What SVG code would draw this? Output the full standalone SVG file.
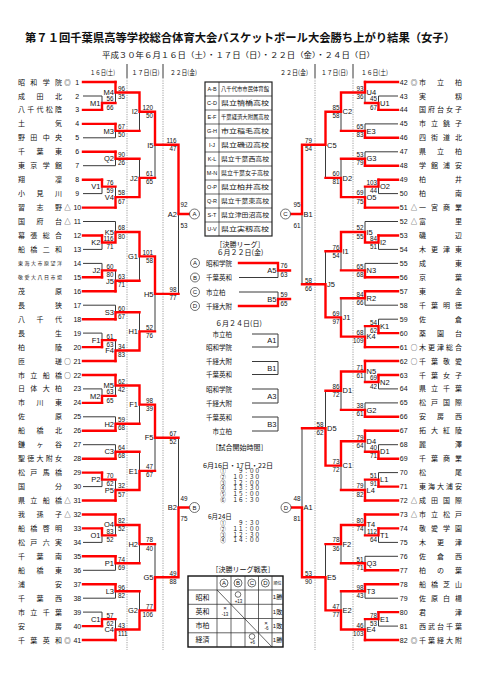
<svg xmlns="http://www.w3.org/2000/svg" width="481" height="680" viewBox="0 0 481 680">
<style>
text{font-family:"Liberation Sans","Noto Sans CJK JP",sans-serif;fill:#111}
.nm{font-family:"Noto Sans CJK JP",sans-serif;font-size:7px}
.sm{font-size:5px}
.mk{font-family:"Noto Sans CJK JP",sans-serif;font-size:6.5px;text-anchor:middle}
.no{font-size:7px;text-anchor:middle}
.lb{font-size:7.5px}
.s{font-size:6.3px}
.e{text-anchor:end}
.mid{text-anchor:middle}
.j{font-family:"Noto Sans CJK JP",sans-serif}
.r{fill:none;stroke:#f00;stroke-width:2.4;stroke-linecap:square;stroke-linejoin:miter}
.k{fill:none;stroke:#3a3a3a;stroke-width:1}
.dot{fill:none;stroke:#888;stroke-width:0.8;stroke-dasharray:1.2 1.2}
.c{fill:#fff;stroke:#333;stroke-width:0.7}
.cl{font-size:6px;text-anchor:middle}
.tb{fill:none;stroke:#222;stroke-width:0.7}
</style>
<rect width="481" height="680" fill="#fff"/>
<g id="title">
<text class="j" x="240" y="42" text-anchor="middle" font-size="11.5" font-weight="bold" textLength="430" lengthAdjust="spacingAndGlyphs">第７１回千葉県高等学校総合体育大会バスケットボール大会勝ち上がり結果（女子）</text>
<text class="j" x="238.5" y="57.5" text-anchor="middle" font-size="7.5" textLength="273" lengthAdjust="spacingAndGlyphs">平成３０年６月１６日（土）・１７日（日）・２２日（金）・２４日（日）</text>
</g>
<g id="headers">
<text class="j" x="90" y="74.5" font-size="6.5" textLength="25" lengthAdjust="spacingAndGlyphs">１６日(土)</text>
<text class="j" x="131.5" y="74.5" font-size="6.5" textLength="28" lengthAdjust="spacingAndGlyphs">１７日(日)</text>
<text class="j" x="170" y="74.5" font-size="6.5" textLength="27" lengthAdjust="spacingAndGlyphs">２２日(金)</text>
<text class="j" x="280" y="74.5" font-size="6.5" textLength="28" lengthAdjust="spacingAndGlyphs">２２日(金)</text>
<text class="j" x="321" y="74.5" font-size="6.5" textLength="27" lengthAdjust="spacingAndGlyphs">１７日(日)</text>
<text class="j" x="361" y="74.5" font-size="6.5" textLength="27" lengthAdjust="spacingAndGlyphs">１６日(土)</text>
<path d="M127 64V78 M163 64V78 M315 64V78 M353 64V78" stroke="#222" stroke-width="0.9"/>
<path class="dot" d="M127 78V650 M163 78V650 M315 78V650 M353 78V650"/>
</g>
<g id="connectors">
<path class="k" d="M83 96H102 M83 137.8H115.5 M83 165.7H115.5 M83 193.6H102 M83 221.5H115.5 M83 249.4H102 M83 263.4H102 M83 305.2H115.5 M83 333.1H102 M83 388.9H102 M83 416.8H115.5 M83 444.7H115.5 M83 486.6H102 M83 542.4H102 M83 570.3H115.5 M83 598.2H115.5 M83 612.1H102"/>
<path class="k" d="M102 102.95V96 M115.5 92.5V102.95 M115.5 130.85V137.8 M139.5 111.7V130.85 M115.5 158.75V165.7 M102 186.65V193.6 M115.5 197.1V186.65 M139.5 177.9V158.75 M155 144.8V177.9 M102 242.45V249.4 M115.5 232V221.5 M102 270.35V263.4 M115.5 280.8V270.35 M139.5 256.4V280.8 M115.5 312.2V305.2 M102 340.1V333.1 M115.5 350.55V340.1 M139.5 331.4V312.2 M155 293.9V331.4 M178.5 214V293.9 M102 395.9V388.9 M115.5 385.45V395.9 M115.5 423.8V416.8 M139.5 404.6V423.8 M115.5 451.7V444.7 M102 479.6V486.6 M115.5 490.05V479.6 M139.5 470.9V451.7 M155 437.75V470.9 M102 535.4V542.4 M115.5 524.95V535.4 M115.5 563.3V570.3 M139.5 544.1V563.3 M115.5 591.2V598.2 M102 619.1V612.1 M115.5 629.55V619.1 M139.5 610.4V591.2 M155 577.25V544.1 M178.5 507.5V437.75"/>
<path class="k" d="M398 96H378.5 M398 123.9H365 M398 151.8H365 M398 193.6H378.5 M398 221.5H365 M398 249.4H378.5 M398 263.4H365 M398 305.2H365 M398 319.2H378.5 M398 388.9H378.5 M398 402.9H365 M398 444.7H378.5 M398 472.6H378.5 M398 542.4H378.5 M398 556.3H365 M398 598.2H365 M398 626.1H378.5"/>
<path class="k" d="M378.5 102.95V96 M365 92.5V102.95 M365 130.85V123.9 M341 111.7V130.85 M365 158.75V151.8 M378.5 186.65V193.6 M365 197.1V186.65 M341 177.9V158.75 M325.5 144.8V177.9 M378.5 242.45V249.4 M365 232V221.5 M365 270.35V263.4 M341 251.2V270.35 M365 298.25V305.2 M378.5 326.15V319.2 M365 336.6V326.15 M341 317.4V298.25 M325.5 284.3V251.2 M302 214V284.3 M378.5 381.95V388.9 M365 371.5V381.95 M365 409.85V402.9 M341 390.7V409.85 M378.5 451.7V444.7 M365 441.25V451.7 M378.5 479.6V472.6 M365 490.05V479.6 M341 465.65V490.05 M325.5 428.2V390.7 M378.5 535.4V542.4 M365 524.95V535.4 M365 563.3V556.3 M341 544.1V563.3 M365 591.2V598.2 M378.5 619.1V626.1 M365 629.55V619.1 M341 610.4V591.2 M325.5 577.25V544.1 M302 507.5V428.2"/>
<path class="k" d="M239 277.5H278V270.5 M239 292H278V299 M252 334H278V347H252 M252 361.5H278V374.5H252 M252 389H278V403H252 M252 417H278V431H252"/>
<path class="r" d="M83 82H115.5 M83 109.9H102 M83 123.9H115.5 M83 151.8H115.5 M83 179.7H102 M83 207.6H115.5 M83 235.5H102 M83 277.3H102 M83 291.3H115.5 M83 319.2H115.5 M83 347.1H102 M83 361H115.5 M83 375H115.5 M83 402.9H102 M83 430.8H115.5 M83 458.7H115.5 M83 472.6H102 M83 500.5H115.5 M83 514.5H115.5 M83 528.4H102 M83 556.3H115.5 M83 584.2H115.5 M83 626.1H102 M83 640H115.5"/>
<path class="r" d="M102 109.9V102.95H115.5 M115.5 82V92.5H139.5 M115.5 123.9V130.85H139.5 M139.5 92.5V111.7H155 M115.5 151.8V158.75H139.5 M102 179.7V186.65H115.5 M115.5 207.6V197.1H139.5 M139.5 197.1V177.9H155 M155 111.7V144.8H178.5 M102 235.5V242.45H115.5 M115.5 242.45V232H139.5 M102 277.3V270.35H115.5 M115.5 291.3V280.8H139.5 M139.5 232V256.4H155 M115.5 319.2V312.2H139.5 M102 347.1V340.1H115.5 M115.5 361V350.55H139.5 M139.5 350.55V331.4H155 M155 256.4V293.9H178.5 M178.5 144.8V214H189.5 M102 402.9V395.9H115.5 M115.5 375V385.45H139.5 M115.5 430.8V423.8H139.5 M139.5 385.45V404.6H155 M115.5 458.7V451.7H139.5 M102 472.6V479.6H115.5 M115.5 500.5V490.05H139.5 M139.5 490.05V470.9H155 M155 404.6V437.75H178.5 M102 528.4V535.4H115.5 M115.5 514.5V524.95H139.5 M115.5 556.3V563.3H139.5 M139.5 524.95V544.1H155 M115.5 584.2V591.2H139.5 M102 626.1V619.1H115.5 M115.5 640V629.55H139.5 M139.5 629.55V610.4H155 M155 610.4V577.25H178.5 M178.5 577.25V507.5H189.5"/>
<path class="r" d="M398 82H365 M398 109.9H378.5 M398 137.8H365 M398 165.7H365 M398 179.7H378.5 M398 207.6H365 M398 235.5H378.5 M398 277.3H365 M398 291.3H365 M398 333.1H378.5 M398 347.1H365 M398 361H365 M398 375H378.5 M398 416.8H365 M398 430.8H365 M398 458.7H378.5 M398 486.6H378.5 M398 500.5H365 M398 514.5H365 M398 528.4H378.5 M398 570.3H365 M398 584.2H365 M398 612.1H378.5 M398 640H365"/>
<path class="r" d="M378.5 109.9V102.95H365 M365 82V92.5H341 M365 137.8V130.85H341 M341 92.5V111.7H325.5 M365 165.7V158.75H341 M378.5 179.7V186.65H365 M365 207.6V197.1H341 M341 197.1V177.9H325.5 M325.5 111.7V144.8H302 M378.5 235.5V242.45H365 M365 242.45V232H341 M365 277.3V270.35H341 M341 232V251.2H325.5 M365 291.3V298.25H341 M378.5 333.1V326.15H365 M365 347.1V336.6H341 M341 336.6V317.4H325.5 M325.5 317.4V284.3H302 M302 144.8V214H291 M378.5 375V381.95H365 M365 361V371.5H341 M365 416.8V409.85H341 M341 371.5V390.7H325.5 M378.5 458.7V451.7H365 M365 430.8V441.25H341 M378.5 486.6V479.6H365 M365 500.5V490.05H341 M341 441.25V465.65H325.5 M325.5 465.65V428.2H302 M378.5 528.4V535.4H365 M365 514.5V524.95H341 M365 570.3V563.3H341 M341 524.95V544.1H325.5 M365 584.2V591.2H341 M378.5 612.1V619.1H365 M365 640V629.55H341 M341 629.55V610.4H325.5 M325.5 610.4V577.25H302 M302 577.25V507.5H291"/>
<path class="r" d="M239 263H278V270.5H290 M239 306H278V299H290"/>
</g>
<g id="teams-left">
<g id="t1"><text class="nm" x="18" y="84.5" textLength="44">昭和学院</text><text class="mk" x="67.5" y="84.5">◎</text><text class="no" x="77.3" y="84.5">1</text></g>
<g id="t2"><text class="nm" x="18" y="98.5" textLength="44">成田北</text><text class="no" x="77.3" y="98.5">2</text></g>
<g id="t3"><text class="nm" x="18" y="112.4" textLength="44">八千代松陰</text><text class="no" x="77.3" y="112.4">3</text></g>
<g id="t4"><text class="nm" x="18" y="126.4" textLength="44">土気</text><text class="no" x="77.3" y="126.4">4</text></g>
<g id="t5"><text class="nm" x="18" y="140.3" textLength="44">野田中央</text><text class="no" x="77.3" y="140.3">5</text></g>
<g id="t6"><text class="nm" x="18" y="154.3" textLength="44">千葉東</text><text class="no" x="77.3" y="154.3">6</text></g>
<g id="t7"><text class="nm" x="18" y="168.2" textLength="44">東京学館</text><text class="no" x="77.3" y="168.2">7</text></g>
<g id="t8"><text class="nm" x="18" y="182.2" textLength="44">翔凜</text><text class="no" x="77.3" y="182.2">8</text></g>
<g id="t9"><text class="nm" x="18" y="196.1" textLength="44">小見川</text><text class="no" x="77.3" y="196.1">9</text></g>
<g id="t10"><text class="nm" x="18" y="210.1" textLength="44">習志野</text><text class="mk" x="67.5" y="210.1">△</text><text class="no" x="77.3" y="210.1">10</text></g>
<g id="t11"><text class="nm" x="18" y="224" textLength="44">国府台</text><text class="mk" x="67.5" y="224">△</text><text class="no" x="77.3" y="224">11</text></g>
<g id="t12"><text class="nm" x="18" y="238" textLength="44">幕張総合</text><text class="no" x="77.3" y="238">12</text></g>
<g id="t13"><text class="nm" x="18" y="251.9" textLength="44">船橋二和</text><text class="no" x="77.3" y="251.9">13</text></g>
<g id="t14"><text class="nm sm" x="18" y="265.2" textLength="44">東海大市原望洋</text><text class="no" x="77.3" y="265.9">14</text></g>
<g id="t15"><text class="nm sm" x="18" y="279.1" textLength="44">敬愛大八日市場</text><text class="no" x="77.3" y="279.8">15</text></g>
<g id="t16"><text class="nm" x="18" y="293.8" textLength="44">茂原</text><text class="no" x="77.3" y="293.8">16</text></g>
<g id="t17"><text class="nm" x="18" y="307.7" textLength="44">長狭</text><text class="no" x="77.3" y="307.7">17</text></g>
<g id="t18"><text class="nm" x="18" y="321.7" textLength="44">八千代</text><text class="no" x="77.3" y="321.7">18</text></g>
<g id="t19"><text class="nm" x="18" y="335.6" textLength="44">長生</text><text class="no" x="77.3" y="335.6">19</text></g>
<g id="t20"><text class="nm" x="18" y="349.6" textLength="44">柏陵</text><text class="no" x="77.3" y="349.6">20</text></g>
<g id="t21"><text class="nm" x="18" y="363.5" textLength="44">匝瑳</text><text class="mk" x="67.5" y="363.5">○</text><text class="no" x="77.3" y="363.5">21</text></g>
<g id="t22"><text class="nm" x="18" y="377.5" textLength="44">市立船橋</text><text class="mk" x="67.5" y="377.5">○</text><text class="no" x="77.3" y="377.5">22</text></g>
<g id="t23"><text class="nm" x="18" y="391.4" textLength="44">日体大柏</text><text class="no" x="77.3" y="391.4">23</text></g>
<g id="t24"><text class="nm" x="18" y="405.4" textLength="44">市川東</text><text class="no" x="77.3" y="405.4">24</text></g>
<g id="t25"><text class="nm" x="18" y="419.3" textLength="44">佐原</text><text class="no" x="77.3" y="419.3">25</text></g>
<g id="t26"><text class="nm" x="18" y="433.3" textLength="44">船橋北</text><text class="no" x="77.3" y="433.3">26</text></g>
<g id="t27"><text class="nm" x="18" y="447.2" textLength="44">鎌ヶ谷</text><text class="no" x="77.3" y="447.2">27</text></g>
<g id="t28"><text class="nm" x="18" y="461.2" textLength="44">聖徳大附女</text><text class="no" x="77.3" y="461.2">28</text></g>
<g id="t29"><text class="nm" x="18" y="475.1" textLength="44">松戸馬橋</text><text class="no" x="77.3" y="475.1">29</text></g>
<g id="t30"><text class="nm" x="18" y="489.1" textLength="44">国分</text><text class="no" x="77.3" y="489.1">30</text></g>
<g id="t31"><text class="nm" x="18" y="503" textLength="44">県立船橋</text><text class="mk" x="67.5" y="503">△</text><text class="no" x="77.3" y="503">31</text></g>
<g id="t32"><text class="nm" x="18" y="517" textLength="44">我孫子</text><text class="mk" x="67.5" y="517">△</text><text class="no" x="77.3" y="517">32</text></g>
<g id="t33"><text class="nm" x="18" y="530.9" textLength="44">船橋啓明</text><text class="no" x="77.3" y="530.9">33</text></g>
<g id="t34"><text class="nm" x="18" y="544.9" textLength="44">松戸六実</text><text class="no" x="77.3" y="544.9">34</text></g>
<g id="t35"><text class="nm" x="18" y="558.8" textLength="44">千葉南</text><text class="no" x="77.3" y="558.8">35</text></g>
<g id="t36"><text class="nm" x="18" y="572.8" textLength="44">船橋東</text><text class="no" x="77.3" y="572.8">36</text></g>
<g id="t37"><text class="nm" x="18" y="586.7" textLength="44">浦安</text><text class="no" x="77.3" y="586.7">37</text></g>
<g id="t38"><text class="nm" x="18" y="600.7" textLength="44">千葉西</text><text class="no" x="77.3" y="600.7">38</text></g>
<g id="t39"><text class="nm" x="18" y="614.6" textLength="44">市立千葉</text><text class="no" x="77.3" y="614.6">39</text></g>
<g id="t40"><text class="nm" x="18" y="628.6" textLength="44">安房</text><text class="no" x="77.3" y="628.6">40</text></g>
<g id="t41"><text class="nm" x="18" y="642.5" textLength="44">千葉英和</text><text class="mk" x="67.5" y="642.5">◎</text><text class="no" x="77.3" y="642.5">41</text></g>
</g>
<g id="teams-right">
<g id="t42"><text class="no" x="403.7" y="84.5">42</text><text class="mk" x="414" y="84.5">◎</text><text class="nm" x="419" y="84.5" textLength="43">市立柏</text></g>
<g id="t43"><text class="no" x="403.7" y="98.5">43</text><text class="nm" x="419" y="98.5" textLength="43">実籾</text></g>
<g id="t44"><text class="no" x="403.7" y="112.4">44</text><text class="nm" x="419" y="112.4" textLength="43">国府台女子</text></g>
<g id="t45"><text class="no" x="403.7" y="126.4">45</text><text class="nm" x="419" y="126.4" textLength="43">市立銚子</text></g>
<g id="t46"><text class="no" x="403.7" y="140.3">46</text><text class="nm" x="419" y="140.3" textLength="43">四街道北</text></g>
<g id="t47"><text class="no" x="403.7" y="154.3">47</text><text class="nm" x="419" y="154.3" textLength="43">県立柏</text></g>
<g id="t48"><text class="no" x="403.7" y="168.2">48</text><text class="nm" x="419" y="168.2" textLength="43">学館浦安</text></g>
<g id="t49"><text class="no" x="403.7" y="182.2">49</text><text class="nm" x="419" y="182.2" textLength="43">柏井</text></g>
<g id="t50"><text class="no" x="403.7" y="196.1">50</text><text class="nm" x="419" y="196.1" textLength="43">柏南</text></g>
<g id="t51"><text class="no" x="403.7" y="210.1">51</text><text class="mk" x="414" y="210.1">△</text><text class="nm" x="419" y="210.1" textLength="43">一宮商業</text></g>
<g id="t52"><text class="no" x="403.7" y="224">52</text><text class="mk" x="414" y="224">△</text><text class="nm" x="419" y="224" textLength="43">富里</text></g>
<g id="t53"><text class="no" x="403.7" y="238">53</text><text class="nm" x="419" y="238" textLength="43">磯辺</text></g>
<g id="t54"><text class="no" x="403.7" y="251.9">54</text><text class="nm" x="419" y="251.9" textLength="43">木更津東</text></g>
<g id="t55"><text class="no" x="403.7" y="265.9">55</text><text class="nm" x="419" y="265.9" textLength="43">成東</text></g>
<g id="t56"><text class="no" x="403.7" y="279.8">56</text><text class="nm" x="419" y="279.8" textLength="43">京葉</text></g>
<g id="t57"><text class="no" x="403.7" y="293.8">57</text><text class="nm" x="419" y="293.8" textLength="43">東金</text></g>
<g id="t58"><text class="no" x="403.7" y="307.7">58</text><text class="nm" x="419" y="307.7" textLength="43">千葉明徳</text></g>
<g id="t59"><text class="no" x="403.7" y="321.7">59</text><text class="nm" x="419" y="321.7" textLength="43">佐倉</text></g>
<g id="t60"><text class="no" x="403.7" y="335.6">60</text><text class="nm" x="419" y="335.6" textLength="43">薬園台</text></g>
<g id="t61"><text class="no" x="403.7" y="349.6">61</text><text class="mk" x="414" y="349.6">○</text><text class="nm" x="419" y="349.6" textLength="43">木更津総合</text></g>
<g id="t62"><text class="no" x="403.7" y="363.5">62</text><text class="mk" x="414" y="363.5">○</text><text class="nm" x="419" y="363.5" textLength="43">千葉敬愛</text></g>
<g id="t63"><text class="no" x="403.7" y="377.5">63</text><text class="nm" x="419" y="377.5" textLength="43">千葉女子</text></g>
<g id="t64"><text class="no" x="403.7" y="391.4">64</text><text class="nm" x="419" y="391.4" textLength="43">県立千葉</text></g>
<g id="t65"><text class="no" x="403.7" y="405.4">65</text><text class="nm" x="419" y="405.4" textLength="43">松戸国際</text></g>
<g id="t66"><text class="no" x="403.7" y="419.3">66</text><text class="nm" x="419" y="419.3" textLength="43">安房西</text></g>
<g id="t67"><text class="no" x="403.7" y="433.3">67</text><text class="nm" x="419" y="433.3" textLength="43">拓大紅陵</text></g>
<g id="t68"><text class="no" x="403.7" y="447.2">68</text><text class="nm" x="419" y="447.2" textLength="43">麗澤</text></g>
<g id="t69"><text class="no" x="403.7" y="461.2">69</text><text class="nm" x="419" y="461.2" textLength="43">千葉商業</text></g>
<g id="t70"><text class="no" x="403.7" y="475.1">70</text><text class="nm" x="419" y="475.1" textLength="43">松尾</text></g>
<g id="t71"><text class="no" x="403.7" y="489.1">71</text><text class="nm" x="419" y="489.1" textLength="43">東海大浦安</text></g>
<g id="t72"><text class="no" x="403.7" y="503">72</text><text class="mk" x="414" y="503">△</text><text class="nm" x="419" y="503" textLength="43">成田国際</text></g>
<g id="t73"><text class="no" x="403.7" y="517">73</text><text class="mk" x="414" y="517">△</text><text class="nm" x="419" y="517" textLength="43">市立松戸</text></g>
<g id="t74"><text class="no" x="403.7" y="530.9">74</text><text class="nm" x="419" y="530.9" textLength="43">敬愛学園</text></g>
<g id="t75"><text class="no" x="403.7" y="544.9">75</text><text class="nm" x="419" y="544.9" textLength="43">木更津</text></g>
<g id="t76"><text class="no" x="403.7" y="558.8">76</text><text class="nm" x="419" y="558.8" textLength="43">佐倉西</text></g>
<g id="t77"><text class="no" x="403.7" y="572.8">77</text><text class="nm" x="419" y="572.8" textLength="43">柏の葉</text></g>
<g id="t78"><text class="no" x="403.7" y="586.7">78</text><text class="nm" x="419" y="586.7" textLength="43">船橋芝山</text></g>
<g id="t79"><text class="no" x="403.7" y="600.7">79</text><text class="nm" x="419" y="600.7" textLength="43">佐原白楊</text></g>
<g id="t80"><text class="no" x="403.7" y="614.6">80</text><text class="nm" x="419" y="614.6" textLength="43">君津</text></g>
<g id="t81"><text class="no" x="403.7" y="628.6">81</text><text class="nm" x="419" y="628.6" textLength="43">西武台千葉</text></g>
<g id="t82"><text class="no" x="403.7" y="642.5">82</text><text class="mk" x="414" y="642.5">◎</text><text class="nm" x="419" y="642.5" textLength="43">千葉経大附</text></g>
</g>
<g id="matches-left">
<g id="L-M1"><text class="lb e" x="100.5" y="105.6">M1</text><text class="s e" x="113.5" y="101.3">56</text><text class="s e" x="113.5" y="109.5">66</text></g>
<g id="L-V1"><text class="lb e" x="100.5" y="189.3">V1</text><text class="s e" x="113.5" y="185">76</text><text class="s e" x="113.5" y="193.2">59</text></g>
<g id="L-K2"><text class="lb e" x="100.5" y="245.1">K2</text><text class="s e" x="113.5" y="240.8">116</text><text class="s e" x="113.5" y="249">71</text></g>
<g id="L-J2a"><text class="lb e" x="100.5" y="273">J2</text><text class="s e" x="113.5" y="268.7">60</text><text class="s e" x="113.5" y="276.9">80</text></g>
<g id="L-F1a"><text class="lb e" x="100.5" y="342.8">F1</text><text class="s e" x="113.5" y="338.5">61</text><text class="s e" x="113.5" y="346.7">63</text></g>
<g id="L-M2"><text class="lb e" x="100.5" y="398.6">M2</text><text class="s e" x="113.5" y="394.3">63</text><text class="s e" x="113.5" y="402.5">65</text></g>
<g id="L-P2"><text class="lb e" x="100.5" y="482.3">P2</text><text class="s e" x="113.5" y="478">70</text><text class="s e" x="113.5" y="486.2">62</text></g>
<g id="L-O1"><text class="lb e" x="100.5" y="538.1">O1</text><text class="s e" x="113.5" y="533.8">83</text><text class="s e" x="113.5" y="542">52</text></g>
<g id="L-C1"><text class="lb e" x="100.5" y="621.8">C1</text><text class="s e" x="113.5" y="617.5">57</text><text class="s e" x="113.5" y="625.7">62</text></g>
<g id="L-M4"><text class="lb e" x="114" y="95.2">M4</text><text class="s" x="118" y="90.8">96</text><text class="s" x="118" y="99">35</text></g>
<g id="L-M3"><text class="lb e" x="114" y="133.5">M3</text><text class="s" x="118" y="129.1">67</text><text class="s" x="118" y="137.3">50</text></g>
<g id="L-Q2"><text class="lb e" x="114" y="161.4">Q2</text><text class="s" x="118" y="157">90</text><text class="s" x="118" y="165.2">26</text></g>
<g id="L-V4"><text class="lb e" x="114" y="199.8">V4</text><text class="s" x="118" y="195.4">58</text><text class="s" x="118" y="203.6">67</text></g>
<g id="L-K5"><text class="lb e" x="114" y="234.7">K5</text><text class="s" x="118" y="230.3">68</text><text class="s" x="118" y="238.5">80</text></g>
<g id="L-J5"><text class="lb e" x="114" y="283.5">J5</text><text class="s" x="118" y="279.1">63</text><text class="s" x="118" y="287.3">71</text></g>
<g id="L-S3"><text class="lb e" x="114" y="314.9">S3</text><text class="s" x="118" y="310.5">60</text><text class="s" x="118" y="318.7">67</text></g>
<g id="L-F4"><text class="lb e" x="114" y="353.2">F4</text><text class="s" x="118" y="348.8">34</text><text class="s" x="118" y="357">83</text></g>
<g id="L-M5"><text class="lb e" x="114" y="387.9">M5</text><text class="s" x="118" y="383.7">62</text><text class="s" x="118" y="391.9">42</text></g>
<g id="L-H2a"><text class="lb e" x="114" y="426.5">H2</text><text class="s" x="118" y="422.1">59</text><text class="s" x="118" y="430.3">68</text></g>
<g id="L-C3"><text class="lb e" x="114" y="454.4">C3</text><text class="s" x="118" y="450">64</text><text class="s" x="118" y="458.2">68</text></g>
<g id="L-P5"><text class="lb e" x="114" y="492.7">P5</text><text class="s" x="118" y="488.3">32</text><text class="s" x="118" y="496.5">57</text></g>
<g id="L-O4"><text class="lb e" x="114" y="527.4">O4</text><text class="s" x="118" y="523.2">82</text><text class="s" x="118" y="531.4">52</text></g>
<g id="L-P1"><text class="lb e" x="114" y="566">P1</text><text class="s" x="118" y="561.6">74</text><text class="s" x="118" y="569.8">69</text></g>
<g id="L-L3"><text class="lb e" x="114" y="593.9">L3</text><text class="s" x="118" y="589.5">96</text><text class="s" x="118" y="597.7">82</text></g>
<g id="L-C4"><text class="lb e" x="114" y="632.2">C4</text><text class="s" x="118" y="627.8">43</text><text class="s" x="118" y="636">111</text></g>
<g id="L-I2"><text class="lb e" x="138" y="114.4">I2</text><text class="s e" x="153" y="110">120</text><text class="s e" x="153" y="118.2">50</text></g>
<g id="L-J2b"><text class="lb e" x="138" y="180.6">J2</text><text class="s e" x="153" y="176.2">61</text><text class="s e" x="153" y="184.4">65</text></g>
<g id="L-G1"><text class="lb e" x="138" y="259.1">G1</text><text class="s e" x="153" y="254.7">101</text><text class="s e" x="153" y="262.9">58</text></g>
<g id="L-H1"><text class="lb e" x="138" y="334.1">H1</text><text class="s e" x="153" y="329.7">52</text><text class="s e" x="153" y="337.9">76</text></g>
<g id="L-F1b"><text class="lb e" x="138" y="407.3">F1</text><text class="s e" x="153" y="402.9">98</text><text class="s e" x="153" y="411.1">39</text></g>
<g id="L-E1"><text class="lb e" x="138" y="473.6">E1</text><text class="s e" x="153" y="469.2">47</text><text class="s e" x="153" y="477.4">67</text></g>
<g id="L-H2b"><text class="lb e" x="138" y="546.8">H2</text><text class="s e" x="153" y="542.4">78</text><text class="s e" x="153" y="550.6">40</text></g>
<g id="L-G2"><text class="lb e" x="138" y="613.1">G2</text><text class="s e" x="153" y="608.7">77</text><text class="s e" x="153" y="616.9">106</text></g>
<g id="L-I5"><text class="lb e" x="153.5" y="147.5">I5</text><text class="s e" x="176.5" y="143.1">116</text><text class="s e" x="176.5" y="151.3">47</text></g>
<g id="L-H5"><text class="lb e" x="153.5" y="296.6">H5</text><text class="s e" x="176.5" y="292.2">98</text><text class="s e" x="176.5" y="300.4">77</text></g>
<g id="L-F5"><text class="lb e" x="153.5" y="440.4">F5</text><text class="s e" x="176.5" y="436">67</text><text class="s e" x="176.5" y="444.2">52</text></g>
<g id="L-G5"><text class="lb e" x="153.5" y="579.9">G5</text><text class="s e" x="176.5" y="575.5">49</text><text class="s e" x="176.5" y="583.7">88</text></g>
<g id="L-A2"><text class="lb e" x="177" y="216.7">A2</text><text class="s" x="180.5" y="207">92</text><text class="s" x="180.5" y="227.5">53</text></g>
<g id="L-B2"><text class="lb e" x="177" y="510.2">B2</text><text class="s" x="180.5" y="500.5">49</text><text class="s" x="180.5" y="521">75</text></g>
</g>
<g id="matches-right">
<g id="R-U1"><text class="lb" x="380" y="105.6">U1</text><text class="s e" x="377" y="101.3">45</text><text class="s e" x="377" y="109.5">67</text></g>
<g id="R-O2"><text class="lb" x="380" y="189.3">O2</text><text class="s e" x="377" y="185">103</text><text class="s e" x="377" y="193.2">44</text></g>
<g id="R-I2"><text class="lb" x="380" y="245.1">I2</text><text class="s e" x="377" y="240.8">84</text><text class="s e" x="377" y="249">51</text></g>
<g id="R-K1"><text class="lb" x="380" y="328.8">K1</text><text class="s e" x="377" y="324.5">54</text><text class="s e" x="377" y="332.7">62</text></g>
<g id="R-N2"><text class="lb" x="380" y="384.6">N2</text><text class="s e" x="377" y="380.3">69</text><text class="s e" x="377" y="388.5">42</text></g>
<g id="R-D1a"><text class="lb" x="380" y="454.4">D1</text><text class="s e" x="377" y="450.2">40</text><text class="s e" x="377" y="458.3">71</text></g>
<g id="R-L1"><text class="lb" x="380" y="482.3">L1</text><text class="s e" x="377" y="478">51</text><text class="s e" x="377" y="486.2">91</text></g>
<g id="R-T1"><text class="lb" x="380" y="538.1">T1</text><text class="s e" x="377" y="533.8">112</text><text class="s e" x="377" y="542">64</text></g>
<g id="R-E1"><text class="lb" x="380" y="621.8">E1</text><text class="s e" x="377" y="617.5">78</text><text class="s e" x="377" y="625.7">53</text></g>
<g id="R-U4"><text class="lb" x="366.5" y="95.2">U4</text><text class="s e" x="363.5" y="90.8">93</text><text class="s e" x="363.5" y="99">36</text></g>
<g id="R-E3"><text class="lb" x="366.5" y="133.5">E3</text><text class="s e" x="363.5" y="129.1">65</text><text class="s e" x="363.5" y="137.3">83</text></g>
<g id="R-G3"><text class="lb" x="366.5" y="161.4">G3</text><text class="s e" x="363.5" y="157">53</text><text class="s e" x="363.5" y="165.2">79</text></g>
<g id="R-O5"><text class="lb" x="366.5" y="199.8">O5</text><text class="s e" x="363.5" y="195.4">69</text><text class="s e" x="363.5" y="203.6">75</text></g>
<g id="R-I5"><text class="lb" x="366.5" y="234.7">I5</text><text class="s e" x="363.5" y="230.3">52</text><text class="s e" x="363.5" y="238.5">55</text></g>
<g id="R-N3"><text class="lb" x="366.5" y="273">N3</text><text class="s e" x="363.5" y="268.7">65</text><text class="s e" x="363.5" y="276.9">68</text></g>
<g id="R-R2"><text class="lb" x="366.5" y="300.9">R2</text><text class="s e" x="363.5" y="296.6">84</text><text class="s e" x="363.5" y="304.8">66</text></g>
<g id="R-K4"><text class="lb" x="366.5" y="339.3">K4</text><text class="s e" x="363.5" y="334.9">68</text><text class="s e" x="363.5" y="343.1">109</text></g>
<g id="R-N5"><text class="lb" x="366.5" y="374">N5</text><text class="s e" x="363.5" y="369.8">71</text><text class="s e" x="363.5" y="378">61</text></g>
<g id="R-G2"><text class="lb" x="366.5" y="412.5">G2</text><text class="s e" x="363.5" y="408.2">38</text><text class="s e" x="363.5" y="416.4">61</text></g>
<g id="R-D4"><text class="lb" x="366.5" y="443.7">D4</text><text class="s e" x="363.5" y="439.5">79</text><text class="s e" x="363.5" y="447.7">64</text></g>
<g id="R-L4"><text class="lb" x="366.5" y="492.7">L4</text><text class="s e" x="363.5" y="488.3">79</text><text class="s e" x="363.5" y="496.5">82</text></g>
<g id="R-T4"><text class="lb" x="366.5" y="527.4">T4</text><text class="s e" x="363.5" y="523.2">80</text><text class="s e" x="363.5" y="531.4">74</text></g>
<g id="R-Q3"><text class="lb" x="366.5" y="566">Q3</text><text class="s e" x="363.5" y="561.6">51</text><text class="s e" x="363.5" y="569.8">71</text></g>
<g id="R-T3"><text class="lb" x="366.5" y="593.9">T3</text><text class="s e" x="363.5" y="589.5">98</text><text class="s e" x="363.5" y="597.7">43</text></g>
<g id="R-E4"><text class="lb" x="366.5" y="632.2">E4</text><text class="s e" x="363.5" y="627.8">46</text><text class="s e" x="363.5" y="636">103</text></g>
<g id="R-C2"><text class="lb" x="342.5" y="114.4">C2</text><text class="s e" x="339.5" y="110">85</text><text class="s e" x="339.5" y="118.2">58</text></g>
<g id="R-D2"><text class="lb" x="342.5" y="180.6">D2</text><text class="s e" x="339.5" y="176.2">60</text><text class="s e" x="339.5" y="184.4">81</text></g>
<g id="R-I1"><text class="lb" x="342.5" y="253.9">I1</text><text class="s e" x="339.5" y="249.5">76</text><text class="s e" x="339.5" y="257.7">54</text></g>
<g id="R-J1"><text class="lb" x="342.5" y="320.1">J1</text><text class="s e" x="339.5" y="315.7">69</text><text class="s e" x="339.5" y="323.9">97</text></g>
<g id="R-D1b"><text class="lb" x="342.5" y="393.4">D1</text><text class="s e" x="339.5" y="389">86</text><text class="s e" x="339.5" y="397.2">72</text></g>
<g id="R-C1"><text class="lb" x="342.5" y="468.3">C1</text><text class="s e" x="339.5" y="463.9">73</text><text class="s e" x="339.5" y="472.1">72</text></g>
<g id="R-F2"><text class="lb" x="342.5" y="546.8">F2</text><text class="s e" x="339.5" y="542.4">78</text><text class="s e" x="339.5" y="550.6">36</text></g>
<g id="R-E2"><text class="lb" x="342.5" y="613.1">E2</text><text class="s e" x="339.5" y="608.7">47</text><text class="s e" x="339.5" y="616.9">77</text></g>
<g id="R-C5"><text class="lb" x="327" y="147.5">C5</text><text class="s" x="305" y="143.1">79</text><text class="s" x="305" y="151.3">54</text></g>
<g id="R-J5"><text class="lb" x="327" y="287">J5</text><text class="s" x="305" y="282.6">58</text><text class="s" x="305" y="290.8">66</text></g>
<g id="R-D5"><text class="lb" x="327" y="430.9">D5</text><text class="s e" x="323.5" y="426.5">58</text><text class="s e" x="323.5" y="434.7">62</text></g>
<g id="R-E5"><text class="lb" x="327" y="579.9">E5</text><text class="s" x="305" y="575.5">53</text><text class="s" x="305" y="583.7">90</text></g>
<g id="R-B1"><text class="lb" x="303.5" y="216.7">B1</text><text class="s e" x="300.5" y="207">95</text><text class="s e" x="300.5" y="227.5">61</text></g>
<g id="R-A1"><text class="lb" x="303.5" y="510.2">A1</text><text class="s e" x="300.5" y="500.5">48</text><text class="s e" x="300.5" y="521">81</text></g>
</g>
<g id="finalists">
<g id="fA"><circle class="c" cx="194.5" cy="214" r="5"/><text class="cl" x="194.5" y="216.2">A</text></g>
<g id="fC"><circle class="c" cx="285.5" cy="214" r="5"/><text class="cl" x="285.5" y="216.2">C</text></g>
<g id="fB"><circle class="c" cx="194.5" cy="507.5" r="5"/><text class="cl" x="194.5" y="509.7">B</text></g>
<g id="fD"><circle class="c" cx="286" cy="507.5" r="5"/><text class="cl" x="286" y="509.7">D</text></g>
</g>
<g id="venues">
<rect x="205" y="82" width="67" height="154" fill="none" stroke="#222" stroke-width="1.2"/>
<path class="tb" d="M219 82V236 M205 96H272 M205 110H272 M205 124H272 M205 138H272 M205 152H272 M205 166H272 M205 180H272 M205 194H272 M205 208H272 M205 222H272"/>
<g font-size="5.5" text-anchor="middle">
<text x="212" y="91.3">A-B</text><text x="212" y="105.3">C-D</text><text x="212" y="119.3">E-F</text><text x="212" y="133.3">G-H</text><text x="212" y="147.3">I-J</text><text x="212" y="161.3">K-L</text><text x="212" y="175.3">M-N</text><text x="212" y="189.3">O-P</text><text x="212" y="203.3">Q-R</text><text x="212" y="217.3">S-T</text><text x="212" y="231.3">U-V</text>
</g>
<g class="j" font-size="6">
<text x="221" y="91.3" textLength="48" lengthAdjust="spacingAndGlyphs">八千代市市民体育館</text>
<text x="221" y="105.3" textLength="48" lengthAdjust="spacingAndGlyphs">県立犢橋高校</text>
<text x="221" y="119.3" textLength="48" lengthAdjust="spacingAndGlyphs">千葉経済大附属高校</text>
<text x="221" y="133.3" textLength="48" lengthAdjust="spacingAndGlyphs">市立稲毛高校</text>
<text x="221" y="147.3" textLength="48" lengthAdjust="spacingAndGlyphs">県立磯辺高校</text>
<text x="221" y="161.3" textLength="48" lengthAdjust="spacingAndGlyphs">県立千葉西高校</text>
<text x="221" y="175.3" textLength="48" lengthAdjust="spacingAndGlyphs">県立千葉女子高校</text>
<text x="221" y="189.3" textLength="48" lengthAdjust="spacingAndGlyphs">県立柏井高校</text>
<text x="221" y="203.3" textLength="48" lengthAdjust="spacingAndGlyphs">県立千葉東高校</text>
<text x="221" y="217.3" textLength="48" lengthAdjust="spacingAndGlyphs">県立津田沼高校</text>
<text x="221" y="231.3" textLength="48" lengthAdjust="spacingAndGlyphs">県立実籾高校</text>
</g>
</g>
<g id="league-0622">
<text class="j" x="240" y="246.8" text-anchor="middle" font-size="7">［決勝リーグ］</text>
<text class="j" x="240" y="255.3" text-anchor="middle" font-size="7">６月２２日(金)</text>
<g id="lgA"><circle class="c" cx="195" cy="263" r="4.5"/><text class="cl" x="195" y="265.2">A</text><text class="j" x="206" y="265.5" font-size="6.5">昭和学院</text></g>
<g id="lgB"><circle class="c" cx="195" cy="277.5" r="4.5"/><text class="cl" x="195" y="279.7">B</text><text class="j" x="206" y="280" font-size="6.5">千葉英和</text></g>
<g id="lgC"><circle class="c" cx="195" cy="292" r="4.5"/><text class="cl" x="195" y="294.2">C</text><text class="j" x="206" y="294.5" font-size="6.5">市立柏</text></g>
<g id="lgD"><circle class="c" cx="195" cy="306" r="4.5"/><text class="cl" x="195" y="308.2">D</text><text class="j" x="206" y="308.5" font-size="6.5">千経大附</text></g>
<g id="A5"><text class="lb e" x="276.5" y="273.3">A5</text><text class="s" x="280.5" y="268.3">76</text><text class="s" x="280.5" y="277.4">63</text></g>
<g id="B5"><text class="lb e" x="276.5" y="301.8">B5</text><text class="s" x="280.5" y="296.8">59</text><text class="s" x="280.5" y="305.9">65</text></g>
</g>
<g id="league-0624">
<text class="j" x="238.5" y="325.5" text-anchor="middle" font-size="7">６月２４日(日)</text>
<g id="g-A1"><text class="j e" x="232" y="336.5" font-size="6.5">市立柏</text><text class="j e" x="232" y="349.5" font-size="6.5">昭和学院</text><text class="lb e" x="276.5" y="343.3">A1</text></g>
<g id="g-B1"><text class="j e" x="232" y="364" font-size="6.5">千経大附</text><text class="j e" x="232" y="377" font-size="6.5">千葉英和</text><text class="lb e" x="276.5" y="370.8">B1</text></g>
<g id="g-A3"><text class="j e" x="232" y="391.5" font-size="6.5">昭和学院</text><text class="j e" x="232" y="405.5" font-size="6.5">千経大附</text><text class="lb e" x="276.5" y="398.8">A3</text></g>
<g id="g-B3"><text class="j e" x="232" y="419.5" font-size="6.5">千葉英和</text><text class="j e" x="232" y="433.5" font-size="6.5">市立柏</text><text class="lb e" x="276.5" y="426.8">B3</text></g>
</g>
<g id="times">
<text class="j" x="239.5" y="450" text-anchor="middle" font-size="7">［試合開始時間］</text>
<text class="j" x="203" y="467.5" font-size="6.5" textLength="70" lengthAdjust="spacingAndGlyphs">6月16日・17日・22日</text>
<g class="j" font-size="5.5">
<text x="223" y="473" text-anchor="middle">①</text><text x="260" y="473" text-anchor="end">９：００</text>
<text x="223" y="478.8" text-anchor="middle">②</text><text x="260" y="478.8" text-anchor="end">１０：３０</text>
<text x="223" y="484.7" text-anchor="middle">③</text><text x="260" y="484.7" text-anchor="end">１２：００</text>
<text x="223" y="490.4" text-anchor="middle">④</text><text x="260" y="490.4" text-anchor="end">１３：３０</text>
<text x="223" y="496.2" text-anchor="middle">⑤</text><text x="260" y="496.2" text-anchor="end">１５：００</text>
<text x="223" y="502" text-anchor="middle">⑥</text><text x="260" y="502" text-anchor="end">１６：３０</text>
</g>
<text class="j" x="208" y="519" font-size="6.5">6月24日</text>
<g class="j" font-size="5.5">
<text x="223" y="525" text-anchor="middle">①</text><text x="260" y="525" text-anchor="end">９：３０</text>
<text x="223" y="530.8" text-anchor="middle">②</text><text x="260" y="530.8" text-anchor="end">１１：００</text>
<text x="223" y="536.6" text-anchor="middle">③</text><text x="260" y="536.6" text-anchor="end">１２：３０</text>
<text x="223" y="542.4" text-anchor="middle">④</text><text x="260" y="542.4" text-anchor="end">１４：００</text>
</g>
</g>
<g id="league-table">
<text class="j" x="243" y="571.5" text-anchor="middle" font-size="7">［決勝リーグ戦表］</text>
<rect x="188" y="576" width="95" height="71" fill="none" stroke="#111" stroke-width="1.4"/>
<path class="tb" d="M217 576V647 M231 576V647 M245 576V647 M258.5 576V647 M272 576V647 M188 590H283 M188 604.3H283 M188 618.5H283 M188 632.8H283 M217 590L272 647"/>
<circle class="c" cx="224" cy="583" r="4"/><text class="cl" x="224" y="585.1" font-size="5.5">A</text>
<circle class="c" cx="238" cy="583" r="4"/><text class="cl" x="238" y="585.1" font-size="5.5">B</text>
<circle class="c" cx="251.8" cy="583" r="4"/><text class="cl" x="251.8" y="585.1" font-size="5.5">C</text>
<circle class="c" cx="265.3" cy="583" r="4"/><text class="cl" x="265.3" y="585.1" font-size="5.5">D</text>
<text class="j" x="277.5" y="584.5" text-anchor="middle" font-size="4">順位</text>
<g class="j" font-size="7" text-anchor="middle">
<text x="202.5" y="599.7">昭和</text><text x="202.5" y="613.9">英和</text><text x="202.5" y="628.2">市柏</text><text x="202.5" y="642.4">経済</text>
</g>
<g class="j" font-size="6" text-anchor="middle">
<text x="277.5" y="599.3">1勝</text><text x="277.5" y="613.5">1敗</text><text x="277.5" y="627.8">1敗</text><text x="277.5" y="642">1勝</text>
</g>
<circle cx="238" cy="594.5" r="2.8" fill="none" stroke="#111" stroke-width="0.6"/>
<text x="238.5" y="602.5" text-anchor="middle" font-size="4.5">+13</text>
<text x="225" y="609.8" text-anchor="middle" font-size="6">×</text>
<text x="225" y="615.6" text-anchor="middle" font-size="4.5">-13</text>
<text x="266" y="624.8" text-anchor="middle" font-size="6">×</text>
<text x="266.5" y="630.4" text-anchor="middle" font-size="4.5">-6</text>
<circle cx="252" cy="636.5" r="2.8" fill="none" stroke="#111" stroke-width="0.6"/>
<text x="252.5" y="644.3" text-anchor="middle" font-size="4.5">+6</text>
</g>
</svg>
